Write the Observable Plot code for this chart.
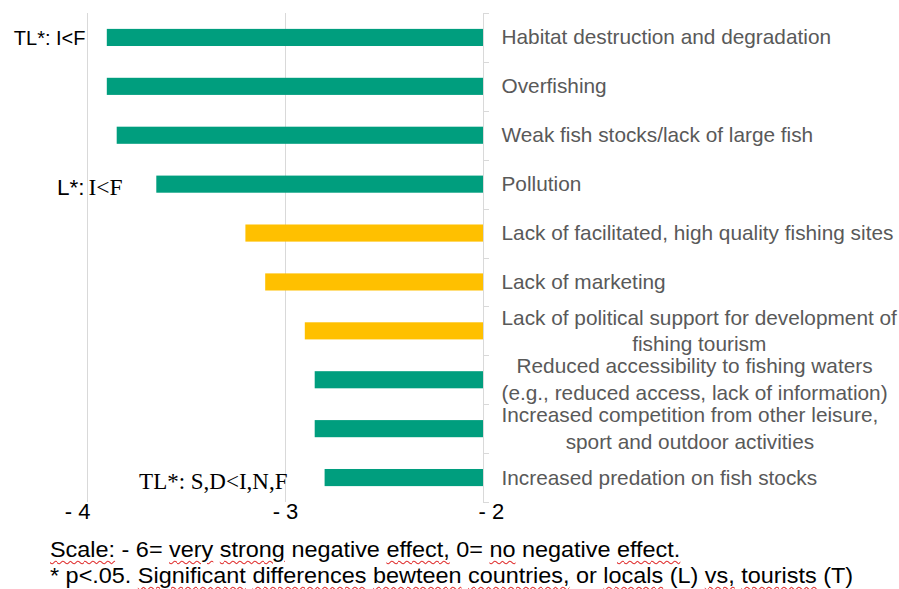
<!DOCTYPE html>
<html>
<head>
<meta charset="utf-8">
<script src="https://cdn.jsdelivr.net/npm/d3@7"></script>
<script src="https://cdn.jsdelivr.net/npm/@observablehq/plot@0.6"></script>
<style>
  body { margin: 0; background: #fff; }
  #chart svg { display: block; }
  .note { margin: 12px 0 0 50px; font-family: "Liberation Sans", Arial, sans-serif; font-size: 22px; line-height: 26px; color: #000; transform: scaleX(1.064); transform-origin: 0 0; width: 800px; }
  .sp { text-decoration: underline wavy #e03030; text-decoration-thickness: 1px; text-underline-offset: 3px; }
</style>
</head>
<body>
<div id="chart"></div>
<div class="note">
  <div><span class="sp">Scale:</span> - 6= <span class="sp">very</span> <span class="sp">strong</span> negative <span class="sp">effect,</span> 0= <span class="sp">no</span> negative <span class="sp">effect.</span></div>
  <div>* p&lt;.05. <span class="sp">Significant</span> <span class="sp">differences</span> <span class="sp">bewteen</span> <span class="sp">countries,</span> or <span class="sp">locals</span> (L) <span class="sp">vs,</span> <span class="sp">tourists</span> (T)</div>
</div>
<script>
// ---- data ----
const categories = [
  "Habitat destruction and degradation",
  "Overfishing",
  "Weak fish stocks/lack of large fish",
  "Pollution",
  "Lack of facilitated, high quality fishing sites",
  "Lack of marketing",
  "Lack of political support for development of\nfishing tourism",
  "Reduced accessibility to fishing waters\n(e.g., reduced access, lack of information)",
  "Increased competition from other leisure,\nsport and outdoor activities",
  "Increased predation on fish stocks"
];
const values = [-3.90, -3.90, -3.85, -3.65, -3.20, -3.10, -2.90, -2.85, -2.85, -2.80];
const groups = ["G1", "G1", "G1", "G1", "G2", "G2", "G2", "G1", "G1", "G1"];
const groupColors = ["#009e7e", "#ffc000"];
const xTicks = [-4, -3, -2];
const xTickLabels = ["- 4", "- 3", "- 2"];
const baseline = -2;

const annotCats = [categories[0], categories[3], categories[3], categories[9]];
const annotTexts = ["TL*: I<F", "L*:", "I<F", "TL*: S,D<I,N,F"];

// ---- build ----
const rows = categories.map((c, i) => ({cat: c, value: values[i], group: groups[i]}));

const labelFont = "20.8px 'Liberation Sans', Arial, sans-serif";
const ctx = document.createElement("canvas").getContext("2d");
ctx.font = labelFont;
const labelRows = categories.map(c => {
  const w = d3.max(c.split("\n"), l => ctx.measureText(l).width);
  return {cat: c, half: w / 2};
});

function boundaryTicks(index, scales, values, dimensions) {
  const y = scales.y, x = scales.x;
  const step = y(categories[1]) - y(categories[0]);
  const top = dimensions.marginTop;
  const x0 = x(baseline);
  const g = d3.create("svg:g").attr("stroke", "#d9d9d9").attr("stroke-width", 1);
  for (let i = 0; i <= categories.length; i++) {
    const yy = Math.round(top + i * step) + 0.5;
    g.append("line").attr("x1", x0).attr("x2", x0 + 6).attr("y1", yy).attr("y2", yy);
  }
  return g.node();
}

const tickAnchors = ["end", "middle", "start"];
const tickDx = [3, 0, -5];

const plot = Plot.plot({
  width: 899,
  height: 525,
  marginLeft: 87,
  marginRight: 416,
  marginTop: 13,
  marginBottom: 23,
  x: {domain: [-4, -2], axis: null},
  y: {domain: categories, axis: null, paddingInner: 0.65, paddingOuter: 0.325, round: false},
  color: {domain: ["G1", "G2"], range: groupColors},
  style: {fontFamily: "'Liberation Sans', Arial, sans-serif", background: "#fff"},
  marks: [
    Plot.ruleX(xTicks, {stroke: "#d9d9d9", strokeWidth: 1}),
    boundaryTicks,
    Plot.barX(rows, {y: "cat", x1: "value", x2: () => baseline, fill: "group"}),
    Plot.text(labelRows, {
      y: "cat", x: () => baseline, text: "cat",
      textAnchor: "middle", lineHeight: 1.28, dy: -2,
      fontSize: 20.8, fill: "#595959"
    }),
    ...xTicks.map((t, i) => Plot.text([t], {
      x: d => d, text: () => xTickLabels[i], frameAnchor: "bottom",
      dy: 9, dx: tickDx[i], textAnchor: tickAnchors[i], lineAnchor: "middle",
      fontSize: 22, fill: "#000"
    })),
    Plot.text([0], {y: () => annotCats[0], x: () => -4, text: () => annotTexts[0], textAnchor: "end", dx: -2, dy: 1, fontSize: 20, fill: "#000"}),
    Plot.text([1], {y: () => annotCats[1], x: () => -4, text: () => annotTexts[1], textAnchor: "end", dx: -3, dy: 3, fontSize: 22.5, fill: "#000"}),
    Plot.text([2], {y: () => annotCats[2], x: () => -4, text: () => annotTexts[2], textAnchor: "start", dx: 1, dy: 3, fontSize: 23.5, fill: "#000", fontFamily: "'Liberation Serif', 'Times New Roman', serif"}),
    Plot.text([3], {y: () => annotCats[3], x: () => -3, text: () => annotTexts[3], textAnchor: "end", dx: 2, dy: 4, fontSize: 23, fill: "#000", fontFamily: "'Liberation Serif', 'Times New Roman', serif"})
  ]
});

document.getElementById("chart").append(plot);
// shift category labels so each block starts just right of the axis, lines centred within it
d3.select(plot).selectAll("g[aria-label='text']").filter((d, i) => i === 0)
  .selectAll("text").each(function(d, i) {
    const half = labelRows[i].half;
    const t = d3.select(this);
    const tr = t.attr("transform") || "";
    t.attr("transform", tr + ` translate(${18 + half},0)`);
  });
</script>
</body>
</html>
